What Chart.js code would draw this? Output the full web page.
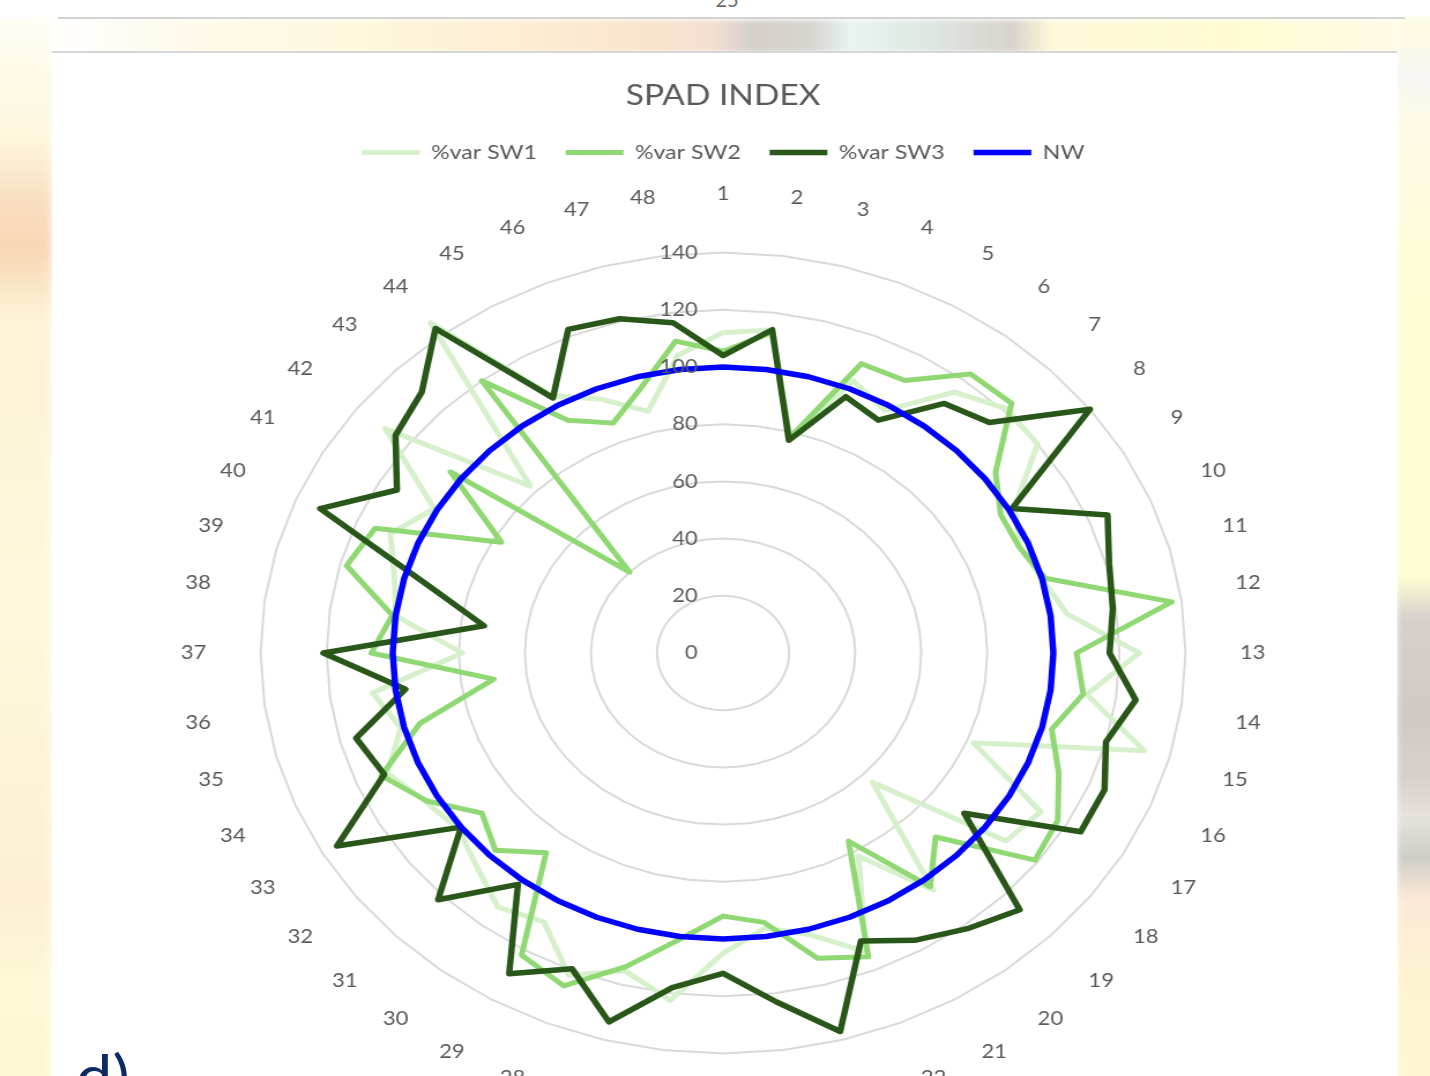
<!DOCTYPE html>
<html>
<head>
<meta charset="utf-8">
<title>SPAD INDEX</title>
<script src="https://cdn.jsdelivr.net/npm/chart.js@4.4.1/dist/chart.umd.min.js"></script>
<style>
  html, body { margin: 0; padding: 0; width: 1430px; height: 1076px; overflow: hidden; background: #ffffff; }
  .bg { position: absolute; }
  #sideLeft {
    left: -10px; top: 18px; width: 62px; height: 1070px;
    background: linear-gradient(to bottom, #fffdf4 0px, #fdf7dc 120px, #fadfc2 180px, #f8d6b4 230px, #fdf3d6 300px, #fdf8dc 600px, #fdf3d4 780px, #fcefd2 880px, #fdf8d6 960px, #fdf8d2 1076px);
    filter: blur(4px);
  }
  #sideRight {
    left: 1397px; top: 18px; width: 45px; height: 1070px;
    background: linear-gradient(to bottom, #fffbe0 0px, #f8f6f4 60px, #fdfbe6 100px, #fefcd6 250px, #fefcd2 560px, #d6d1cc 600px, #cfcac6 700px, #d9d0cc 760px, #e6e2dc 800px, #cfcdc8 840px, #fbe9d6 880px, #fdf3d2 960px, #fdf6d4 1076px);
    filter: blur(3px);
  }
  #band {
    left: 52px; top: 20px; width: 1345px; height: 32px;
    background: linear-gradient(to right, #ffffff 0px, #fefbee 100px, #fdf8dc 300px, #fdecd2 480px, #fbe2cc 600px, #f4dfd0 660px, #d4cfcb 700px, #d8d4d0 760px, #e9f4f1 800px, #dde6e0 880px, #d9d2cc 960px, #fdf8d8 1000px, #fefcd4 1200px, #fefbe4 1345px);
    filter: blur(2px);
  }
  #ruleTop { left: 58px; top: 17px; width: 1347px; height: 2px; background: #d2d2d2; }
  #ruleChart { left: 52px; top: 51px; width: 1345px; height: 2px; background: #d6d6d6; }
  #pageNo {
    left: 700px; top: -13px; width: 54px; text-align: center;
    font-family: 'Lato', sans-serif; font-size: 20px; color: #6b6b6b;
  }
  #panel { left: 52px; top: 53px; width: 1345px; height: 1030px; background: #ffffff; }
  #wrap {
    position: absolute; left: 52px; top: 54px; width: 1162px; height: 1070px;
    transform: scaleX(1.155); transform-origin: 0 0;
  }
  #figTag {
    left: 76px; top: 1046px; font-family: 'Lato', sans-serif; font-size: 58px;
    line-height: 58px; color: #0c2a66; transform: scaleX(1.12); transform-origin: 0 0;
  }
</style>
</head>
<body>
<div class="bg" id="sideLeft"></div>
<div class="bg" id="sideRight"></div>
<div class="bg" id="band"></div>
<div class="bg" id="panel"></div>
<div class="bg" id="ruleTop"></div>
<div class="bg" id="ruleChart"></div>
<div class="bg" id="pageNo">25</div>
<div id="wrap"><canvas id="chart"></canvas></div>
<div class="bg" id="figTag">d)</div>

<script>
// Sampling positions around the radar (1..48)
const categories = [
  '1','2','3','4','5','6','7','8','9','10','11','12',
  '13','14','15','16','17','18','19','20','21','22','23','24',
  '25','26','27','28','29','30','31','32','33','34','35','36',
  '37','38','39','40','41','42','43','44','45','46','47','48'
];

// Radial axis ticks
const tickValues = [0, 20, 40, 60, 80, 100, 120, 140];

// SPAD percentage of the NW reference, per position
const sw1 = [
  112, 114, 78, 103, 98, 115, 121, 120, 102, 97, 100, 105,
  126, 111, 132, 82, 111, 108, 64, 104.5, 82, 113, 102, 97,
  105, 122.5, 115, 122, 108.5, 112, 105.5, 101, 104, 110, 101, 107,
  79, 100, 103, 109, 101, 129, 82.5, 145.5, 104, 96, 87.5, 105
];
const sw2 = [
  105.5, 113, 78, 109.5, 110, 123, 123.5, 104, 97, 97, 101, 137,
  107, 110, 103, 110, 117, 119, 91, 103, 76, 115, 110.5, 95,
  92, 101, 113.5, 126, 122, 88, 97.5, 92, 103.5, 112, 95, 70,
  106.5, 101, 118, 114, 77.5, 104, 40, 120, 94, 87, 96, 110
];
const sw3 = [
  104, 114, 77, 97, 94, 110, 114, 140, 101, 126, 121, 119,
  117, 126, 120, 125, 125, 92, 127, 121.5, 116, 109, 137, 123,
  112, 118, 133.5, 119.5, 129.5, 102, 122, 100, 135, 111, 115, 97,
  121, 73, 93, 132, 114, 125, 129, 143, 103, 122.5, 121, 116.5
];
const nw = [
  100, 100, 100, 100, 100, 100, 100, 100, 100, 100, 100, 100,
  100, 100, 100, 100, 100, 100, 100, 100, 100, 100, 100, 100,
  100, 100, 100, 100, 100, 100, 100, 100, 100, 100, 100, 100,
  100, 100, 100, 100, 100, 100, 100, 100, 100, 100, 100, 100
];

const seriesNames = ['%var SW1', '%var SW2', '%var SW3', 'NW'];
const seriesColors = ['#d5f0cb', '#8fd873', '#295719', '#0000ff'];
const textColor = '#595959';
const fontFamily = "'Lato', 'Open Sans', sans-serif";

function lineSeries(label, data, color, width, order) {
  return {
    label, data, order,
    borderColor: color,
    backgroundColor: color,
    borderWidth: width,
    borderJoinStyle: 'round',
    borderCapStyle: 'round',
    fill: false,
    pointRadius: 0,
    pointHoverRadius: 0,
    tension: 0
  };
}

// Value labels stacked along the vertical axis, right-aligned to its left side
const axisValueLabels = {
  id: 'axisValueLabels',
  afterDatasetsDraw(chart) {
    const scale = chart.scales.r;
    const ctx = chart.ctx;
    ctx.save();
    ctx.font = '19px ' + fontFamily;
    ctx.fillStyle = textColor;
    ctx.textAlign = 'right';
    ctx.textBaseline = 'middle';
    tickValues.forEach(v => {
      const d = scale.getDistanceFromCenterForValue(v);
      ctx.fillText(String(v), scale.xCenter - 22, scale.yCenter - d);
    });
    ctx.restore();
  }
};

// Extra room between the legend row and the plot
const legendSpacing = {
  id: 'legendSpacing',
  beforeInit(chart) {
    const legend = chart.legend;
    if (!legend) return;
    const baseFit = legend.fit;
    legend.fit = function () {
      baseFit.call(this);
      this.height += 10.4;
    };
  }
};

new Chart(document.getElementById('chart'), {
  type: 'radar',
  data: {
    labels: categories,
    datasets: [
      lineSeries(seriesNames[0], sw1, seriesColors[0], 5, 3),
      lineSeries(seriesNames[1], sw2, seriesColors[1], 5, 2),
      lineSeries(seriesNames[2], sw3, seriesColors[2], 5.5, 1),
      lineSeries(seriesNames[3], nw, seriesColors[3], 5.5, 0)
    ]
  },
  options: {
    responsive: true,
    maintainAspectRatio: false,
    animation: false,
    devicePixelRatio: 1,
    layout: { padding: 0 },
    plugins: {
      title: {
        display: true,
        text: 'SPAD INDEX',
        color: textColor,
        font: { family: fontFamily, size: 29, weight: 'normal' },
        padding: { top: 24, bottom: 4.6 }
      },
      legend: {
        display: true,
        position: 'top',
        labels: {
          usePointStyle: true,
          pointStyle: 'line',
          pointStyleWidth: 50,
          color: textColor,
          font: { family: fontFamily, size: 20 },
          padding: 25,
          sort: (a, b) => a.datasetIndex - b.datasetIndex
        }
      },
      tooltip: { enabled: false }
    },
    scales: {
      r: {
        min: 0,
        max: 140,
        ticks: { stepSize: 20, display: false },
        grid: { color: '#d9d9d9', lineWidth: 2, circular: false },
        angleLines: { display: false },
        pointLabels: {
          color: textColor,
          font: { family: fontFamily, size: 19 },
          padding: 47
        }
      }
    }
  },
  plugins: [legendSpacing, axisValueLabels]
});
</script>
</body>
</html>
